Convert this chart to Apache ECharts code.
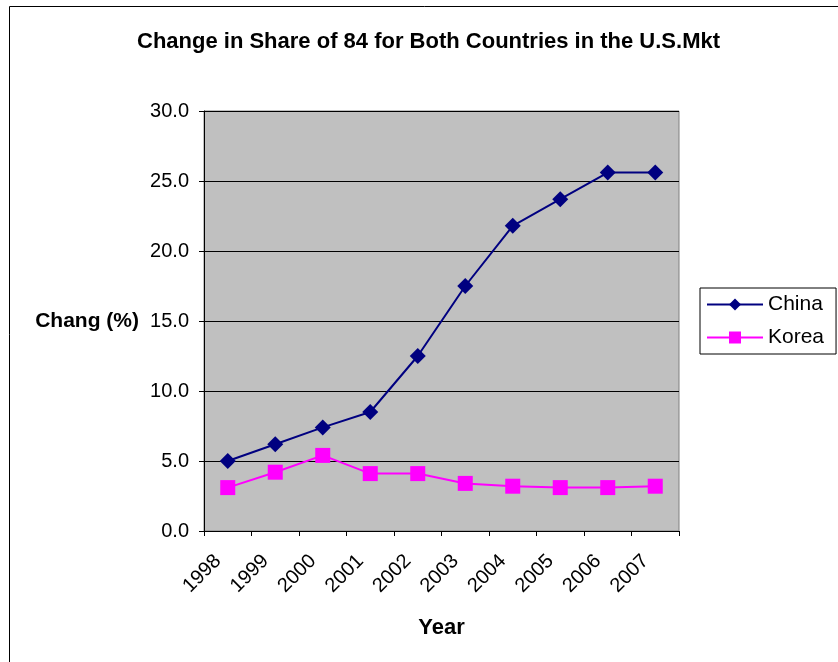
<!DOCTYPE html>
<html>
<head>
<meta charset="utf-8">
<script src="https://cdn.jsdelivr.net/npm/echarts@6/dist/echarts.min.js"></script>
<style>
  html, body { margin: 0; padding: 0; background: #fff; }
  #chart { width: 838px; height: 662px; }
</style>
</head>
<body>
<div id="chart"></div>
<script>
// ── Data ────────────────────────────────────────────────────────────────
const years = ['1998', '1999', '2000', '2001', '2002', '2003', '2004', '2005', '2006', '2007'];
const china = [5.0, 6.2, 7.4, 8.5, 12.5, 17.5, 21.8, 23.7, 25.6, 25.6];
const korea = [3.1, 4.2, 5.4, 4.1, 4.1, 3.4, 3.2, 3.1, 3.1, 3.2];

const FONT = 'Liberation Sans, Arial, sans-serif';

const chart = echarts.init(document.getElementById('chart'));

chart.setOption({
  animation: false,
  backgroundColor: '#fff',
  title: {
    text: 'Change in Share of 84 for Both Countries in the U.S.Mkt',
    left: 132, top: 26,
    textStyle: { fontFamily: FONT, fontSize: 22, fontWeight: 'bold', color: '#000' }
  },
  legend: {
    orient: 'vertical',
    left: 700, top: 288,
    padding: [6, 12, 6, 6],
    itemGap: 12,
    itemWidth: 56, itemHeight: 15,
    borderColor: '#000', borderWidth: 1,
    textStyle: { fontFamily: FONT, fontSize: 21, color: '#000' },
    data: ['China', 'Korea']
  },
  grid: { left: 204, right: 159, top: 111, bottom: 131, show: true, backgroundColor: '#c0c0c0', borderColor: '#808080', borderWidth: 1 },
  xAxis: {
    type: 'category',
    data: years,
    boundaryGap: true,
    name: 'Year',
    nameLocation: 'middle',
    nameGap: 86,
    nameTextStyle: { fontFamily: FONT, fontSize: 22, fontWeight: 'bold', color: '#000' },
    axisLine: { lineStyle: { color: '#000', width: 1 } },
    axisTick: { show: true, length: 5, lineStyle: { color: '#000' } },
    axisLabel: { rotate: 45, margin: 17, padding: [0, 14, 0, 0], fontFamily: FONT, fontSize: 20, color: '#000' }
  },
  yAxis: {
    type: 'value',
    min: 0, max: 30, interval: 5,
    name: 'Chang (%)',
    nameLocation: 'middle',
    nameRotate: 0,
    nameGap: 65,
    nameTextStyle: { fontFamily: FONT, fontSize: 21, fontWeight: 'bold', color: '#000' },
    axisLine: { show: true, lineStyle: { color: '#000', width: 1 } },
    axisTick: { show: true, length: 5, lineStyle: { color: '#000' } },
    axisLabel: { margin: 15, fontFamily: FONT, fontSize: 20, color: '#000', formatter: v => v.toFixed(1) },
    splitLine: { show: true, lineStyle: { color: '#000', width: 1 } }
  },
  graphic: [{
    type: 'rect',
    shape: { x: 9.5, y: 6.5, width: 900, height: 700 },
    style: { fill: 'none', stroke: '#000', lineWidth: 1 },
    silent: true, z: 100
  }],
  series: [
    {
      name: 'China', type: 'line', data: china,
      symbol: 'diamond', symbolSize: 16,
      lineStyle: { color: '#000080', width: 2 },
      itemStyle: { color: '#000080' }
    },
    {
      name: 'Korea', type: 'line', data: korea,
      symbol: 'rect', symbolSize: 15,
      lineStyle: { color: '#ff00ff', width: 2 },
      itemStyle: { color: '#ff00ff' }
    }
  ]
});
</script>
</body>
</html>
